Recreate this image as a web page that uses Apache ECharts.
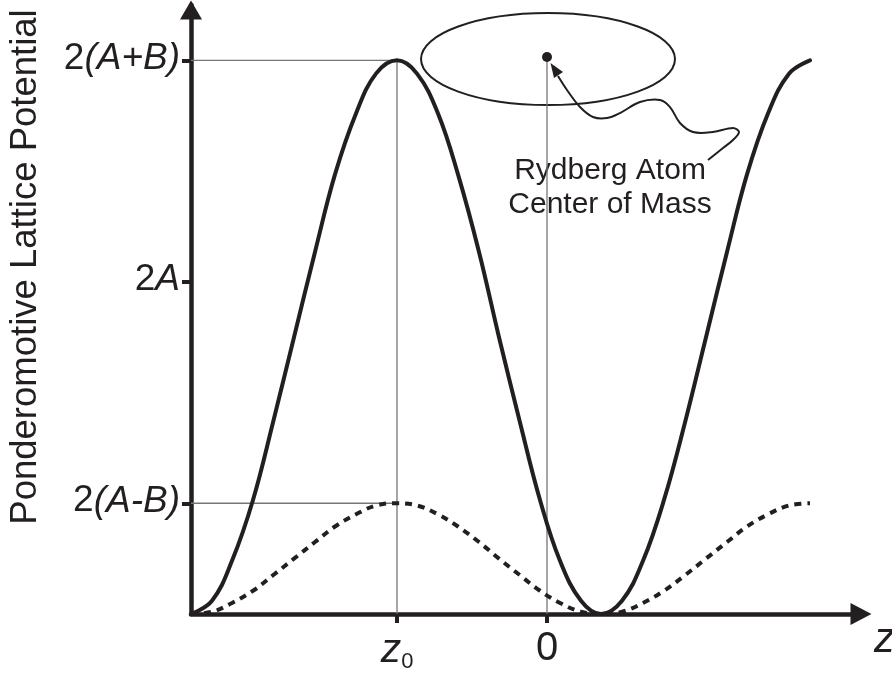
<!DOCTYPE html>
<html>
<head>
<meta charset="utf-8">
<script src="https://cdn.jsdelivr.net/npm/echarts@6/dist/echarts.min.js"></script>
<style>
  html,body{margin:0;padding:0;background:#fff;}
  #main{width:892px;height:674px;}
</style>
</head>
<body>
<div id="main"></div>
<script>
// positions along z (0 = atom centre of mass)
var zPos = [-356,-335,-315,-294,-274,-253,-232,-212,-191,-171,-150,-130,-109,-89,-68,-48,-27,-7,13,34,54,75,96,117,138,159,180,200,221,242,263];
// solid curve, potential (units: 2(A+B)=5, 2A=3, 2(A-B)=1)
var solidV = [0,0.12,0.48,1.03,1.73,2.5,3.27,3.97,4.52,4.88,5,4.88,4.52,3.97,3.27,2.5,1.73,1.03,0.48,0.12,0,0.12,0.48,1.03,1.73,2.5,3.27,3.97,4.52,4.88,5];
// dashed curve
var dashV = [0,0.02,0.1,0.21,0.35,0.5,0.65,0.79,0.9,0.98,1,0.98,0.9,0.79,0.65,0.5,0.35,0.21,0.1,0.02,0,0.02,0.1,0.21,0.35,0.5,0.65,0.79,0.9,0.98,1];

var yTickVals = [1,3,5];
var yTickText = ['2(A-B)','2A','2(A+B)'];
var xTickVals = [-150,0];
var xTickText = ['z0','0'];
var zMin = -356, zMax = 314;
var vMax = 5.5;
var z0 = -150;
var atomZ = 0, atomV = 5.03;

var ink = '#231f20';
var guide = '#767676';
var font = "'Liberation Sans', Arial, sans-serif";

function pairs(xs, ys){
    var out = [];
    for(var i=0;i<xs.length;i++){ out.push([xs[i], ys[i]]); }
    return out;
}

var chart = echarts.init(document.getElementById('main'));

var option = {
    animation: false,
    backgroundColor: '#fff',
    grid: { left: 191, right: 31, top: 5, bottom: 60, containLabel: false },
    xAxis: {
        type: 'value', min: zMin, max: zMax,
        axisLine: { show: true, onZero: false, symbol: ['none','triangle'], symbolSize: [22, 21], symbolOffset: [0, 0],
            lineStyle: { color: ink, width: 4.5 } },
        axisTick: { show: true, customValues: xTickVals, length: 9, lineStyle: { color: ink, width: 4 } },
        axisLabel: {
            show: true, customValues: xTickVals, margin: 15, color: ink,
            formatter: function(v){
                var t = xTickText[xTickVals.indexOf(v)];
                if(t == 'z0') return '{z|z}{s|0}';
                return '{n|' + t + '}';
            },
            rich: {
                z: { fontFamily: font, fontSize: 41, fontStyle: 'italic', color: ink },
                s: { fontFamily: font, fontSize: 22, color: ink, padding: [22,0,0,0] },
                n: { fontFamily: font, fontSize: 40, color: ink }
            }
        },
        splitLine: { show: false }
    },
    yAxis: {
        type: 'value', min: 0, max: vMax,
        axisLine: { show: true, onZero: false, symbol: ['none','triangle'], symbolSize: [22, 19], symbolOffset: [0, -5],
            lineStyle: { color: ink, width: 4.5 } },
        axisTick: { show: true, customValues: yTickVals, length: 9, lineStyle: { color: ink, width: 4 } },
        axisLabel: {
            show: true, customValues: yTickVals, margin: 11, color: ink,
            formatter: function(v){
                var t = yTickText[yTickVals.indexOf(v)];
                return '{n|' + t.charAt(0) + '}{i|' + t.slice(1) + '}';
            },
            rich: {
                n: { fontFamily: font, fontSize: 37, color: ink, padding: [0,0,4,0] },
                i: { fontFamily: font, fontSize: 37, fontStyle: 'italic', color: ink, padding: [0,0,4,0] }
            }
        },
        splitLine: { show: false }
    },
    series: [
        { type: 'line', data: [[zMin, yTickVals[2]], [z0, yTickVals[2]], [z0, 0]], symbol: 'none', z: 1,
          lineStyle: { color: guide, width: 1.3 } },
        { type: 'line', data: [[zMin, yTickVals[0]], [z0, yTickVals[0]]], symbol: 'none', z: 1,
          lineStyle: { color: guide, width: 1.3 } },
        { type: 'line', data: [[atomZ, 0], [atomZ, atomV]], symbol: 'none', z: 1,
          lineStyle: { color: guide, width: 1.3 } },
        { type: 'line', data: pairs(zPos, dashV), symbol: 'none', smooth: 0.4, clip: false,
          lineStyle: { color: ink, width: 4, type: [7, 6] } },
        { type: 'line', data: pairs(zPos, solidV), symbol: 'none', smooth: 0.4, clip: false,
          lineStyle: { color: ink, width: 4, cap: 'round' } },
        { type: 'scatter', data: [[atomZ, atomV]], symbol: 'circle', symbolSize: 10, z: 5,
          itemStyle: { color: ink, opacity: 1 } }
    ]
};
chart.setOption(option);

// annotation placed from the atom's pixel position
var p = chart.convertToPixel({gridIndex: 0}, [atomZ, atomV]);
var e = chart.convertToPixel({gridIndex: 0}, [zMax, 0]);
var wave = [[11,19],[20,33],[33,50],[46,60],[60,61],[73,56],[93,45],[113,43],[123,50],[133,66],[146,75],[166,75],[186,71],[192,75],[186,83],[176,91],[161,103]];
var wavePts = wave.map(function(d){ return [p[0] + d[0], p[1] + d[1]]; });

chart.setOption({
    graphic: [
        { type: 'ellipse', shape: { cx: p[0] + 1, cy: p[1] + 2, rx: 127, ry: 46 },
          style: { fill: 'none', stroke: ink, lineWidth: 2 } },
        { type: 'polyline', shape: { points: wavePts, smooth: 0.35 },
          style: { fill: 'none', stroke: ink, lineWidth: 2 } },
        { type: 'polygon', shape: { points: [[p[0]+3.5, p[1]+6], [p[0]+16, p[1]+15], [p[0]+7, p[1]+21]] },
          style: { fill: ink } },
        { type: 'text', x: p[0] + 63, y: p[1] + 131,
          style: { text: 'Rydberg Atom\nCenter of Mass', fontFamily: font, fontSize: 30, lineHeight: 34,
                   fill: ink, align: 'center', verticalAlign: 'middle' } },
        { type: 'text', x: 26, y: 267, rotation: Math.PI / 2,
          style: { text: 'Ponderomotive Lattice Potential', fontFamily: font, fontSize: 36.5,
                   fill: ink, align: 'center', verticalAlign: 'middle' } },
        { type: 'text', x: e[0] + 13, y: e[1] + 26,
          style: { text: 'z', fontFamily: font, fontSize: 42, fontStyle: 'italic',
                   fill: ink, align: 'left', verticalAlign: 'middle' } }
    ]
});
</script>
</body>
</html>
